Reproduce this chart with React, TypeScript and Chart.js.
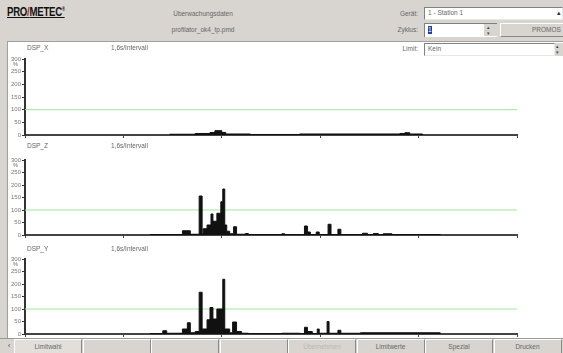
import React, { useEffect, useRef } from "react";
import { Chart, registerables } from "chart.js";
Chart.register(...registerables);

// ---- data ----
const xTicks = [0, 100, 200, 300, 400, 500];
const yTicks = [0, 50, 100, 150, 200, 250, 300];
const limitValue = 100;
const intervalLabel = "1,6s/Intervall";

const dspXTimes = [147, 173, 188, 193, 200, 204, 229, 279, 381, 386, 391, 404];
const dspXValues = [3, 6, 10, 17, 10, 4, 2, 4, 6, 9, 4, 0];

const dspZTimes = [127, 160, 168, 177, 180, 181, 185, 189, 191, 195, 199, 201, 203, 205, 208, 212, 215, 224, 227, 261, 264, 284, 287, 290, 296, 299, 308, 311, 318, 321, 343, 348, 354, 359, 364, 373, 422];
const dspZValues = [2, 17, 3, 156, 5, 25, 40, 84, 55, 87, 133, 184, 40, 15, 5, 33, 3, 6, 2, 5, 2, 36, 12, 2, 12, 2, 43, 2, 23, 2, 7, 2, 6, 2, 5, 2, 0];

const dspYTimes = [127, 140, 144, 160, 165, 168, 173, 177, 180, 185, 188, 191, 195, 201, 203, 208, 211, 215, 220, 227, 261, 279, 284, 287, 292, 297, 299, 307, 309, 318, 321, 341, 422];
const dspYValues = [2, 13, 3, 20, 45, 5, 10, 167, 20, 57, 106, 60, 100, 219, 20, 5, 48, 10, 3, 2, 3, 2, 27, 10, 2, 20, 3, 50, 3, 15, 3, 5, 0];

const channels = [
  { name: "DSP_X", times: dspXTimes, values: dspXValues },
  { name: "DSP_Z", times: dspZTimes, values: dspZValues },
  { name: "DSP_Y", times: dspYTimes, values: dspYValues },
];

const buttonLabels = ["Limitwahl", "", "", "", "Übernehmen", "Limitwerte", "Spezial", "Drucken"];

const FONT = "'Liberation Sans', Arial, sans-serif";

// layout of each chart (pixel positions of value 0 and plot height)
const chartGeom = [
  { bottom: 135, plotH: 76, titleTop: 44 },
  { bottom: 235, plotH: 75, titleTop: 142 },
  { bottom: 334, plotH: 75, titleTop: 245 },
];

function StepChart({ times, values, geom }: any) {
  const ref = useRef<HTMLCanvasElement>(null);
  const H = 88;
  const top = geom.bottom - 82;
  useEffect(() => {
    const ctx = ref.current!;
    const chart = new Chart(ctx, {
      type: "line",
      data: {
        datasets: [
          {
            data: times.map((t: number, i: number) => ({ x: t, y: values[i] })),
            stepped: "before",
            borderColor: "#111",
            borderWidth: 1,
            backgroundColor: "#111",
            fill: "origin",
            pointRadius: 0,
          } as any,
          {
            data: [
              { x: xTicks[0], y: limitValue },
              { x: xTicks[xTicks.length - 1], y: limitValue },
            ],
            borderColor: "#9fe59f",
            borderWidth: 1,
            pointRadius: 0,
            fill: false,
          },
        ],
      },
      options: {
        animation: false,
        responsive: false,
        maintainAspectRatio: false,
        layout: { padding: { left: 0, right: 46, top: 82 - geom.plotH, bottom: 2 } },
        plugins: { legend: { display: false }, tooltip: { enabled: false } },
        scales: {
          x: {
            type: "linear",
            min: xTicks[0],
            max: xTicks[xTicks.length - 1],
            afterBuildTicks: (s: any) => {
              s.ticks = xTicks.map((v) => ({ value: v }));
            },
            ticks: { display: false },
            grid: { drawOnChartArea: false, drawTicks: true, tickLength: 3, color: "#444" },
            border: { color: "#444", width: 2 },
            afterFit: (s: any) => {
              s.height = 4;
            },
          },
          y: {
            min: 0,
            max: 300,
            afterBuildTicks: (s: any) => {
              s.ticks = yTicks.map((v) => ({ value: v }));
            },
            ticks: { font: { size: 6, family: FONT }, color: "#777", padding: 1 },
            grid: { drawOnChartArea: false, drawTicks: true, tickLength: 3, color: "#333" },
            border: { color: "#333", width: 2 },
            afterFit: (s: any) => {
              s.width = 25;
            },
          },
        },
      } as any,
    });
    return () => chart.destroy();
  }, []);
  return (
    <canvas
      ref={ref}
      width={563}
      height={H}
      style={{ position: "absolute", left: 0, top, width: 563, height: H, display: "block" }}
    />
  );
}

const small: React.CSSProperties = { position: "absolute", fontSize: 6.5, color: "#666", fontFamily: FONT, whiteSpace: "nowrap", lineHeight: "8px" };

function Field({ left, top, width, height, text, spinner }: any) {
  return (
    <div style={{ position: "absolute", left, top, width, height, background: "#fff", borderTop: "1px solid #808080", borderLeft: "1px solid #808080", borderRight: "1px solid #e8e8e8", borderBottom: "1px solid #e8e8e8", boxSizing: "border-box" }}>
      <div style={{ ...small, left: 3, top: 1 }}>{text}</div>
      {spinner}
    </div>
  );
}

export default function App() {
  return (
    <div style={{ position: "fixed", left: 0, top: 0, width: 563, height: 353, background: "#d8d5d0", overflow: "hidden", fontFamily: FONT }}>
      {/* header */}
      <div style={{ position: "absolute", left: 7, top: 5, fontSize: 12, fontWeight: "bold", color: "#111", transform: "scaleX(0.8)", transformOrigin: "left top", textDecoration: "underline", letterSpacing: -0.3, whiteSpace: "nowrap" }}>
        PRO<span style={{ color: "#b22" }}>/</span>METEC<sup style={{ fontSize: 5 }}>®</sup>
      </div>
      <div style={{ ...small, left: 150, width: 106, textAlign: "center", top: 10 }}>Überwachungsdaten</div>
      <div style={{ ...small, left: 150, width: 106, textAlign: "center", top: 26 }}>profilator_ok4_tp.pmd</div>
      <div style={{ ...small, left: 370, width: 48, textAlign: "right", top: 10 }}>Gerät:</div>
      <Field left={424} top={7} width={139} height={13} text="1 - Station 1" />
      <div style={{ ...small, left: 557, top: 9, color: "#333" }}>▴</div>
      <div style={{ ...small, left: 370, width: 48, textAlign: "right", top: 26 }}>Zyklus:</div>
      <div style={{ position: "absolute", left: 424, top: 23, width: 73, height: 14, background: "#fff", borderTop: "1px solid #808080", borderLeft: "1px solid #808080", boxSizing: "border-box" }}>
        <div style={{ position: "absolute", left: 3, top: 2, width: 4, height: 8, background: "#1a3fa8", color: "#fff", fontSize: 6.5, lineHeight: "8px", fontFamily: FONT }}>1</div>
        <div style={{ position: "absolute", left: 58, top: 0, width: 13, height: 12, background: "#d8d5d0", borderLeft: "1px solid #fff" }}>
          <div style={{ ...small, left: 3, top: -1, color: "#444", fontSize: 5 }}>▴</div>
          <div style={{ ...small, left: 3, top: 5, color: "#444", fontSize: 5 }}>▾</div>
        </div>
      </div>
      <div style={{ position: "absolute", left: 500, top: 23, width: 70, height: 14, background: "#d8d5d0", borderTop: "1px solid #fff", borderLeft: "1px solid #fff", borderBottom: "1px solid #888", boxSizing: "border-box" }}>
        <div style={{ ...small, left: 31, top: 2 }}>PROMOS</div>
      </div>

      {/* main white panel */}
      <div style={{ position: "absolute", left: 7, top: 41, width: 556, height: 297, background: "#fff", borderTop: "1px solid #a0a0a0", borderLeft: "1px solid #a0a0a0", boxSizing: "border-box" }} />
      <div style={{ ...small, left: 370, width: 48, textAlign: "right", top: 45 }}>Limit:</div>
      <Field left={424} top={43} width={131} height={13} text="Kein" />
      <div style={{ position: "absolute", left: 555, top: 43, width: 8, height: 13, background: "#d8d5d0" }}>
        <div style={{ ...small, left: 1, top: -1, color: "#444", fontSize: 5 }}>▴</div>
        <div style={{ ...small, left: 1, top: 5, color: "#444", fontSize: 5 }}>▾</div>
      </div>

      {channels.map((c, i) => (
        <StepChart key={c.name} times={c.times} values={c.values} geom={chartGeom[i]} />
      ))}
      {channels.map((c, i) => (
        <React.Fragment key={"t" + c.name}>
          <div style={{ ...small, left: 27, top: chartGeom[i].titleTop }}>{c.name}</div>
          <div style={{ ...small, left: 111, top: chartGeom[i].titleTop }}>{intervalLabel}</div>
          <div style={{ ...small, left: 13, top: chartGeom[i].bottom - chartGeom[i].plotH + 1, fontSize: 5.5 }}>%</div>
        </React.Fragment>
      ))}

      {/* bottom bar */}
      <div style={{ position: "absolute", left: 0, top: 338, width: 563, height: 15, background: "#d8d5d0", borderTop: "1px solid #999", boxSizing: "border-box" }} />
      <div style={{ ...small, left: 8, top: 342, color: "#444" }}>‹</div>
      {buttonLabels.map((b, i) => (
        <div key={i} style={{ position: "absolute", left: 14 + i * 68.5, top: 339, width: 68, height: 14, background: i === 0 ? "#e2dfda" : "#d8d5d0", borderTop: "1px solid #fff", borderLeft: "1px solid #fff", borderRight: "1px solid #8a8a8a", boxSizing: "border-box" }}>
          <div style={{ ...small, left: 0, width: 66, textAlign: "center", top: 3, color: b === "Übernehmen" ? "#b8b5b0" : "#666" }}>{b}</div>
        </div>
      ))}
    </div>
  );
}
